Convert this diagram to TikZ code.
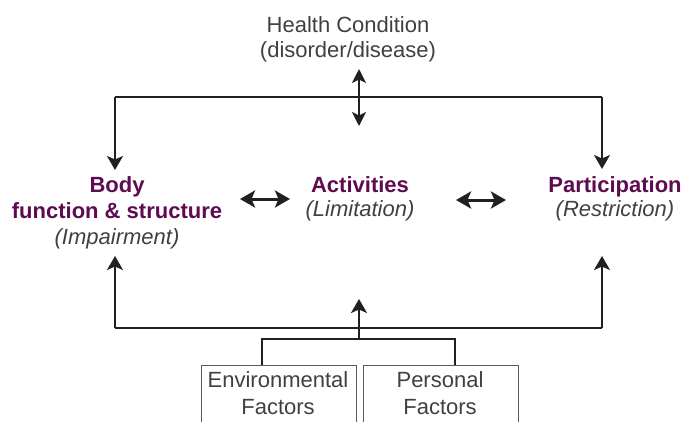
\documentclass[tikz,border=0pt]{standalone}
\usepackage{fontspec}
\setmainfont{Liberation Sans}
\usetikzlibrary{arrows.meta}
\definecolor{ink}{HTML}{231F20}
\definecolor{txt}{HTML}{404040}
\definecolor{plum}{HTML}{5E0B4F}
\definecolor{boxc}{HTML}{5A5A5A}
\tikzset{
  lbl/.style={anchor=base, inner sep=0pt, text=txt, font=\fontsize{22}{26}\selectfont},
  ttl/.style={anchor=base, inner sep=0pt, text=plum, font=\fontsize{22}{26}\selectfont\bfseries},
  sub/.style={anchor=base, inner sep=0pt, text=txt, font=\fontsize{22}{26}\selectfont\itshape},
  conn/.style={draw=ink, line width=2pt},
  arr/.style={conn, -{Stealth[length=14pt,width=16pt,inset=3.5pt]}},
  darr/.style={conn, line width=2.2pt, {Stealth[length=14pt,width=14pt,inset=3.5pt]}-{Stealth[length=14pt,width=14pt,inset=3.5pt]}},
  harr/.style={conn, line width=3pt, {Stealth[length=15pt,width=17pt,inset=3.5pt]}-{Stealth[length=15pt,width=17pt,inset=3.5pt]}},
  boxline/.style={draw=boxc, line width=0.9pt},
}
\begin{document}
\begin{tikzpicture}[x=1pt,y=-1pt]
\useasboundingbox (0,0) rectangle (688,421);
% texts
\node[lbl] (hc1) at (348,32) {Health Condition};
\node[lbl] (hc2) at (348,57) {(disorder/disease)};
\node[ttl] (body1) at (117,192) {Body};
\node[ttl] (body2) at (117,218) {function \& structure};
\node[sub] (body3) at (117,244) {(Impairment)};
\node[ttl] (act1) at (360,192) {Activities};
\node[sub] (act2) at (360,216) {(Limitation)};
\node[ttl] (par1) at (615,192) {Participation};
\node[sub] (par2) at (615,216) {(Restriction)};
\node[lbl] (env1) at (278,387) {Environmental};
\node[lbl] (env2) at (278,414) {Factors};
\node[lbl] (per1) at (440,387) {Personal};
\node[lbl] (per2) at (440,414) {Factors};
% coordinates
\coordinate (tl) at (115,97);
\coordinate (tr) at (602,97);
\coordinate (tlend) at (115,170);
\coordinate (trend) at (602,169);
\coordinate (hcT) at (359,69);
\coordinate (hcB) at (359,126);
\coordinate (bl) at (115,328);
\coordinate (br) at (602,328);
\coordinate (blend) at (115,256);
\coordinate (brend) at (602,256);
\coordinate (mb) at (359,339);
\coordinate (mt) at (359,299);
\coordinate (ba) at (240,199);
\coordinate (ab) at (290,199);
\coordinate (ap) at (456,200);
\coordinate (pa) at (506,200);
\coordinate (eT) at (262,365);
\coordinate (pT) at (455,365);
% top
\draw[conn] (tl) -- (tr);
\draw[arr] (tl) -- (tlend);
\draw[arr] (tr) -- (trend);
\draw[darr] (hcT) -- (hcB);
% middle
\draw[harr] (ba) -- (ab);
\draw[harr] (ap) -- (pa);
% bottom
\draw[conn] (bl) -- (br);
\draw[arr] (bl) -- (blend);
\draw[arr] (br) -- (brend);
\draw[arr] (mb) -- (mt);
\draw[conn, line cap=butt] (eT) |- (mb) -| (pT);
% boxes
\draw[boxline] (201,430) -- (201,365) -- (356,365) -- (356,430);
\draw[boxline] (363,430) -- (363,365) -- (518,365) -- (518,430);
\end{tikzpicture}
\end{document}
